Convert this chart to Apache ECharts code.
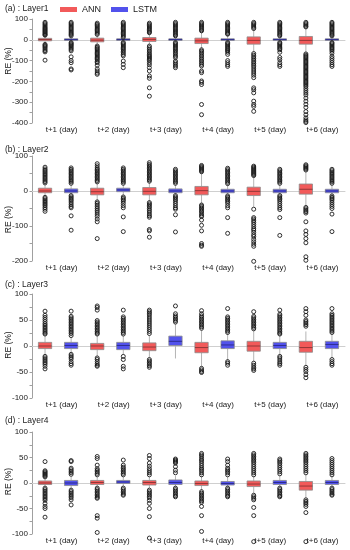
<!DOCTYPE html>
<html><head><meta charset="utf-8">
<script src="https://cdn.jsdelivr.net/npm/echarts@6/dist/echarts.min.js"></script>
<style>html,body{margin:0;padding:0;background:#fff}#c{width:350px;height:550px}</style>
</head><body><div id="c"></div>
<script>
// ---------- data ----------
const categories = ['t+1 (day)', 't+2 (day)', 't+3 (day)', 't+4 (day)', 't+5 (day)', 't+6 (day)'];
const panelTitles = ['(a) : Layer1', '(b) : Layer2', '(c) : Layer3', '(d) : Layer4'];
const models = ['ANN', 'LSTM'];
const yAxisName = 'RE (%)';
const yMins = [-400, -200, -100, -100];
const yMaxs = [100, 100, 100, 100];
const yIntervals = [100, 100, 50, 50];

// box stats: [min whisker, Q1, median, Q3, max whisker]
const annBoxA = [[-18,-5,1,7,20],[-28,-10,-2,8,25],[-28,-8,2,11,30],[-45,-18,-5,8,38],[-60,-21,-3,14,48],[-62,-21,-3,16,55]];
const lstmBoxA = [[-10,-3,1,5,15],[-10,-3,1,5,9],[-10,-3,1,5,15],[-10,-3,1,5,22],[-10,-3,1,5,15],[-10,-3,1,5,15]];
const annOutA = [
  [84,78,72,66,60,55,50,45,40,35,30,25,22,-22,-27,-32,-38,-45,-52,-58,-98],
  [80,74,68,62,56,50,44,38,32,26,-30,-36,-42,-48,-54,-60,-66,-72,-78,-84,-90,-96,-104,-110,-122,-140,-150,-160,-166],
  [80,74,68,62,56,50,44,38,34,-30,-38,-46,-54,-62,-70,-76,-82,-88,-94,-100,-110,-120,-134,-150,-174,-185,-231,-271],
  [84,78,72,66,60,54,48,43,-48,-55,-62,-70,-78,-86,-94,-102,-110,-118,-126,-150,-158,-198,-205,-215,-311,-360],
  [84,78,72,66,60,54,-66,-74,-82,-90,-98,-106,-114,-122,-130,-140,-150,-160,-170,-182,-231,-240,-255,-295,-311,-320,-344],
  [84,78,72,66,62,-68,-74,-80,-86,-92,-98,-104,-110,-116,-122,-128,-134,-140,-146,-152,-158,-164,-170,-176,-182,-188,-194,-200,-206,-212,-218,-225,-235,-245,-255,-265,-280,-295,-310,-325,-345,-360,-375,-385,-392,-398]
];
const lstmOutA = [
  [84,78,72,66,60,54,48,42,36,30,25,19,-13,-18,-23,-28,-34,-40,-46,-53,-82,-100,-110,-140,-145],
  [84,78,72,66,60,54,48,42,36,30,24,18,12,-13,-18,-24,-30,-36,-42,-48,-55,-62,-70,-77,-102,-118,-134],
  [84,78,72,66,60,54,48,42,36,30,24,19,-13,-18,-24,-30,-36,-42,-48,-55,-62,-70,-78,-85,-102,-110,-118,-126,-134],
  [84,78,72,66,60,54,48,42,36,30,27,-13,-18,-24,-30,-36,-42,-48,-53,-60,-70,-100,-110,-120,-128],
  [84,78,72,66,60,54,48,42,36,30,24,19,-13,-18,-24,-30,-36,-42,-48,-60,-85,-95,-110,-120,-128],
  [84,78,72,66,60,54,48,42,36,30,24,19,-13,-18,-24,-30,-36,-42,-48,-55,-65,-80,-90,-100,-110,-120,-128]
];

const annBoxB = [[-15,-5,0,8,18],[-28,-11,-2,8,22],[-30,-11,-1,10,25],[-37,-11,1,13,52],[-45,-13,-1,11,42],[-44,-9,5,20,55]];
const lstmBoxB = [[-11,-5,0,6,18],[-14,-2,3,8,18],[-11,-5,0,6,18],[-12,-5,0,5,18],[-11,-5,0,5,18],[-12,-5,0,5,18]];
const annOutB = [
  [68,63,59,55,51,47,43,39,35,31,27,23,-18,-22,-26,-30,-34,-38,-42,-47,-52,-58],
  [78,72,66,62,58,54,50,46,42,38,34,30,26,-31,-35,-40,-45,-50,-55,-60,-66,-72,-80,-88,-136],
  [81,76,72,68,64,60,56,52,48,44,40,36,32,28,-33,-37,-41,-45,-50,-55,-60,-66,-71,-75,-110,-114,-132],
  [73,70,67,64,61,58,55,-40,-44,-48,-52,-56,-60,-65,-70,-73,-83,-98,-114,-150,-155,-158],
  [71,68,65,62,59,56,53,50,47,44,-52,-76,-80,-85,-90,-96,-102,-108,-112,-118,-125,-130,-138,-145,-152,-158,-201],
  [75,72,69,66,63,60,-47,-51,-55,-59,-63,-88,-114,-124,-136,-148,-188,-198]
];
const lstmOutB = [
  [66,62,58,54,50,46,42,38,34,30,26,22,-13,-17,-21,-25,-29,-34,-39,-44,-48,-71,-112],
  [66,62,58,54,50,46,42,38,34,30,26,22,-17,-21,-25,-29,-35,-42,-48,-74,-116],
  [62,58,54,50,46,42,38,34,30,26,22,-13,-17,-21,-25,-30,-36,-42,-48,-52,-68,-117],
  [65,61,57,53,49,45,41,37,33,29,25,21,-14,-18,-22,-26,-30,-35,-42,-48,-76,-121],
  [62,58,54,50,46,42,38,34,30,26,22,-13,-17,-21,-25,-30,-36,-42,-48,-53,-76,-127],
  [62,58,54,50,46,42,38,34,30,26,22,-14,-18,-22,-26,-32,-38,-44,-50,-66,-116]
];

const annBoxC = [[-18,-5,0,7,20],[-20,-7,0,5,20],[-22,-9,-2,6,20],[-39,-13,-3,7,30],[-30,-10,0,9,30],[-38,-12,-3,9,28]];
const lstmBoxC = [[-14,-5,1,7,18],[-17,-7,1,7,20],[-24,1,9,19,43],[-28,-5,2,10,24],[-18,-5,1,7,20],[-24,-5,3,9,24]];
const annOutC = [
  [67,59,55,51,47,43,40,37,34,31,28,25,23,-20,-23,-26,-29,-32,-35,-39,-44],
  [77,74,69,49,46,43,40,37,34,31,28,25,23,-23,-26,-30,-34,-37,-39],
  [69,66,63,60,56,52,48,44,40,36,32,28,24,-26,-29,-32,-35,-38,-41],
  [68,62,58,55,52,49,46,43,40,37,34,-43,-46,-49,-51],
  [66,57,54,51,48,45,42,39,36,33,-33,-37,-41,-44,-47],
  [72,66,59,50,47,44,41,38,-41,-45,-49,-55,-61]
];
const lstmOutC = [
  [67,57,54,51,48,45,42,39,36,33,30,27,24,20,-16,-19,-22,-25,-30,-34,-37],
  [69,56,53,50,47,44,41,38,35,32,29,26,23,-20,-26,-39,-44],
  [77,62,58,55,52,49,46],
  [72,56,53,50,47,44,41,38,35,32,29,26,-30,-33,-37],
  [69,61,58,55,52,49,46,43,40,37,34,31,28,25,23,-20,-23,-27,-31,-34,-37],
  [72,62,59,56,53,50,47,44,41,38,35,32,29,26,-26,-30,-34,-37]
];

const annBoxD = [[-8,-3,0,4,10],[-8,-3,1,5,12],[-10,-4,1,5,12],[-14,-5,-1,4,14],[-20,-7,-2,4,14],[-30,-14,-6,3,16]];
const lstmBoxD = [[-12,-5,0,5,12],[-7,-1,2,5,12],[-8,-3,1,6,14],[-8,-4,-1,3,12],[-8,-3,1,5,14],[-8,-3,1,5,14]];
const annOutD = [
  [42,24,22,20,18,16,14,12,-10,-13,-16,-19,-22,-25,-28,-31,-34,-40,-46,-50,-67],
  [52,48,35,28,25,22,19,16,-10,-13,-16,-19,-22,-25,-28,-30,-64,-69,-97],
  [54,48,39,33,28,24,20,16,-14,-17,-20,-23,-26,-29,-34,-40,-50,-66,-108],
  [58,55,52,48,45,42,38,34,30,27,24,20,16,-17,-20,-23,-26,-29,-32,-35,-38,-46,-64,-95],
  [58,55,52,49,46,43,40,36,32,28,24,20,16,-24,-27,-30,-33,-48,-64,-115],
  [58,55,52,49,46,43,40,36,32,28,24,20,-33,-36,-39,-42,-46,-58,-115]
];
const lstmOutD = [
  [44,42,29,26,23,20,17,-14,-17,-20,-23,-26,-29,-33,-43],
  [45,35,31,28,25,22,19,16,-10,-13,-16,-19,-22,-24],
  [47,45,43,41,39,32,25,20,-10,-13,-16,-19,-22,-25,-27],
  [47,42,35,29,26,23,20,16,-10,-13,-16,-19,-22,-25,-27],
  [47,44,41,38,34,30,26,22,18,-10,-13,-16,-19,-22,-25,-27],
  [48,44,40,36,32,28,24,20,16,-10,-13,-16,-19,-22,-24]
];

const annBoxes = [annBoxA, annBoxB, annBoxC, annBoxD];
const lstmBoxes = [lstmBoxA, lstmBoxB, lstmBoxC, lstmBoxD];
const annOuts = [annOutA, annOutB, annOutC, annOutD];
const lstmOuts = [lstmOutA, lstmOutB, lstmOutC, lstmOutD];

// ---------- style / layout ----------
const FONT = 'Liberation Sans, Arial, sans-serif';
const gridTops = [19, 156, 294, 432];
const gridHeights = [104, 105, 104, 102];
const titleTops = [4.5, 145.5, 280.5, 416.5];
const yNameCenters = [61, 219.5, 345, 481.5];
const colors = {
  ANN: {fill: '#f25a5a', median: '#7a2e2e'},
  LSTM: {fill: '#5252ec', median: '#25257a'}
};

function makeRender(outliers, side, col) {
  return function (params, api) {
    const i = api.value(0);
    const band = api.size([1, 0])[0];
    const cx = api.coord([i, 0])[0] + side * band / 4;
    const bw = 13.3;
    const y = v => api.coord([i, v])[1];
    const yMin = y(api.value(1)), yQ1 = y(api.value(2)), yMed = y(api.value(3)),
          yQ3 = y(api.value(4)), yMax = y(api.value(5));
    const ws = {stroke: '#b4b4b4', lineWidth: 1};
    const children = [
      {type: 'line', shape: {x1: cx, y1: yMin, x2: cx, y2: yQ1}, style: ws},
      {type: 'line', shape: {x1: cx, y1: yQ3, x2: cx, y2: yMax}, style: ws},
      {type: 'rect', shape: {x: cx - bw / 2, y: yQ3, width: bw, height: Math.max(yQ1 - yQ3, 1)},
       style: {fill: col.fill, stroke: '#8c8c8c', lineWidth: 0.8}},
      {type: 'line', shape: {x1: cx - bw / 2, y1: yMed, x2: cx + bw / 2, y2: yMed},
       style: {stroke: col.median, lineWidth: 0.8}}
    ];
    (outliers[params.dataIndex] || []).forEach(v => {
      children.push({type: 'circle', shape: {cx: cx, cy: y(v), r: 2},
        style: {fill: 'none', stroke: '#1a1a1a', lineWidth: 0.9}});
    });
    return {type: 'group', children: children};
  };
}

const grids = [], xAxes = [], yAxes = [], series = [], titles = [], graphics = [];
for (let p = 0; p < 4; p++) {
  grids.push({left: 32, right: 5, top: gridTops[p], height: gridHeights[p]});
  xAxes.push({
    type: 'category', gridIndex: p, data: categories, boundaryGap: true,
    axisLine: {show: true, lineStyle: {color: '#cfcfcf', width: 1}},
    axisTick: {show: false},
    axisLabel: {fontSize: 8, color: '#1a1a1a', margin: 3, fontFamily: FONT, padding: [0, 0, 0, 7], interval: 0}
  });
  yAxes.push({
    type: 'value', gridIndex: p, min: yMins[p], max: yMaxs[p], interval: yIntervals[p],
    axisLine: {show: true, lineStyle: {color: '#a0a0a0', width: 1}},
    axisTick: {show: true, length: 2.5, lineStyle: {color: '#a0a0a0'}},
    minorTick: {show: true, splitNumber: 2, length: 2.5, lineStyle: {color: '#a0a0a0'}},
    splitLine: {show: false},
    axisLabel: {fontSize: 8, color: '#1a1a1a', margin: 4, fontFamily: FONT}
  });
  titles.push({text: panelTitles[p], left: 5, top: titleTops[p], padding: 0,
    textStyle: {fontSize: 8.5, fontWeight: 'normal', color: '#1a1a1a', fontFamily: FONT}});
  graphics.push({type: 'text', x: 8.5, y: yNameCenters[p], rotation: Math.PI / 2,
    style: {text: yAxisName, fontSize: 8.5, fill: '#1a1a1a', fontFamily: FONT, textAlign: 'center', textVerticalAlign: 'middle'}});
  [[annBoxes[p], annOuts[p], -1, 'ANN'], [lstmBoxes[p], lstmOuts[p], 1, 'LSTM']].forEach(([box, out, side, name]) => {
    series.push({
      type: 'custom', name: name, xAxisIndex: p, yAxisIndex: p,
      clip: false,
      itemStyle: {color: colors[name].fill},
      encode: {x: 0, y: [1, 2, 3, 4, 5]},
      data: box.map((b, i) => [i].concat(b)),
      renderItem: makeRender(out, side, colors[name]),
      silent: true
    });
  });
}

const chart = echarts.init(document.getElementById('c'), null, {renderer: 'canvas'});
chart.setOption({
  animation: false,
  backgroundColor: '#fff',
  title: titles,
  legend: {
    left: 60, top: 5, itemWidth: 17, itemHeight: 5, itemGap: 10, padding: 0,
    textStyle: {fontSize: 9, color: '#1a1a1a', fontFamily: FONT},
    data: models.map(m => ({name: m, icon: 'rect', itemStyle: {color: colors[m].fill, borderWidth: 0}}))
  },
  grid: grids, xAxis: xAxes, yAxis: yAxes, series: series, graphic: graphics
});
</script></body></html>
